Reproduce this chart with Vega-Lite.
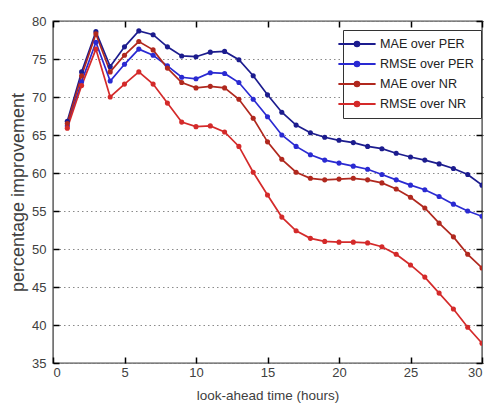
{
  "$schema": "https://vega.github.io/schema/vega-lite/v6.json",
  "width": 429,
  "height": 342,
  "autosize": {"type": "none"},
  "padding": {"left": 53, "top": 21, "right": 4, "bottom": 51},
  "background": "white",
  "config": {
    "view": {"stroke": "#505050", "strokeWidth": 1.4},
    "font": "Liberation Sans",
    "axis": {
      "labelFont": "Liberation Sans",
      "labelFontSize": 13,
      "labelColor": "#404040",
      "titleFont": "Liberation Sans",
      "titleFontSize": 13.5,
      "titleFontWeight": "normal",
      "titleColor": "#404040",
      "domain": false,
      "ticks": true,
      "tickColor": "#000000",
      "tickWidth": 1.5,
      "tickSize": 6,
      "tickOpacity": 1,
      "offset": -6,
      "zindex": 1
    }
  },
  "data": {
    "values": [
      {"h": 1, "MAE over PER": 66.8, "RMSE over PER": 66.2, "MAE over NR": 66.5, "RMSE over NR": 65.9},
      {"h": 2, "MAE over PER": 73.3, "RMSE over PER": 72.0, "MAE over NR": 72.8, "RMSE over NR": 71.5},
      {"h": 3, "MAE over PER": 78.6, "RMSE over PER": 77.2, "MAE over NR": 78.3, "RMSE over NR": 76.3},
      {"h": 4, "MAE over PER": 74.0, "RMSE over PER": 72.1, "MAE over NR": 73.3, "RMSE over NR": 70.0},
      {"h": 5, "MAE over PER": 76.6, "RMSE over PER": 74.3, "MAE over NR": 75.5, "RMSE over NR": 71.7},
      {"h": 6, "MAE over PER": 78.7, "RMSE over PER": 76.3, "MAE over NR": 77.3, "RMSE over NR": 73.3},
      {"h": 7, "MAE over PER": 78.2, "RMSE over PER": 75.5, "MAE over NR": 76.2, "RMSE over NR": 71.7},
      {"h": 8, "MAE over PER": 76.6, "RMSE over PER": 74.1, "MAE over NR": 73.8, "RMSE over NR": 69.2},
      {"h": 9, "MAE over PER": 75.4, "RMSE over PER": 72.6, "MAE over NR": 71.9, "RMSE over NR": 66.7},
      {"h": 10, "MAE over PER": 75.3, "RMSE over PER": 72.4, "MAE over NR": 71.2, "RMSE over NR": 66.1},
      {"h": 11, "MAE over PER": 75.9, "RMSE over PER": 73.2, "MAE over NR": 71.4, "RMSE over NR": 66.2},
      {"h": 12, "MAE over PER": 76.0, "RMSE over PER": 73.1, "MAE over NR": 71.2, "RMSE over NR": 65.4},
      {"h": 13, "MAE over PER": 74.9, "RMSE over PER": 71.9, "MAE over NR": 69.7, "RMSE over NR": 63.5},
      {"h": 14, "MAE over PER": 72.8, "RMSE over PER": 69.7, "MAE over NR": 67.2, "RMSE over NR": 60.1},
      {"h": 15, "MAE over PER": 70.3, "RMSE over PER": 67.4, "MAE over NR": 64.1, "RMSE over NR": 57.1},
      {"h": 16, "MAE over PER": 68.0, "RMSE over PER": 65.0, "MAE over NR": 61.8, "RMSE over NR": 54.2},
      {"h": 17, "MAE over PER": 66.3, "RMSE over PER": 63.5, "MAE over NR": 60.1, "RMSE over NR": 52.4},
      {"h": 18, "MAE over PER": 65.3, "RMSE over PER": 62.4, "MAE over NR": 59.3, "RMSE over NR": 51.4},
      {"h": 19, "MAE over PER": 64.7, "RMSE over PER": 61.7, "MAE over NR": 59.1, "RMSE over NR": 51.0},
      {"h": 20, "MAE over PER": 64.3, "RMSE over PER": 61.3, "MAE over NR": 59.2, "RMSE over NR": 50.9},
      {"h": 21, "MAE over PER": 64.0, "RMSE over PER": 60.9, "MAE over NR": 59.3, "RMSE over NR": 50.9},
      {"h": 22, "MAE over PER": 63.5, "RMSE over PER": 60.5, "MAE over NR": 59.1, "RMSE over NR": 50.8},
      {"h": 23, "MAE over PER": 63.2, "RMSE over PER": 59.8, "MAE over NR": 58.7, "RMSE over NR": 50.3},
      {"h": 24, "MAE over PER": 62.6, "RMSE over PER": 59.1, "MAE over NR": 57.9, "RMSE over NR": 49.3},
      {"h": 25, "MAE over PER": 62.1, "RMSE over PER": 58.4, "MAE over NR": 56.8, "RMSE over NR": 47.9},
      {"h": 26, "MAE over PER": 61.7, "RMSE over PER": 57.8, "MAE over NR": 55.4, "RMSE over NR": 46.3},
      {"h": 27, "MAE over PER": 61.2, "RMSE over PER": 56.9, "MAE over NR": 53.4, "RMSE over NR": 44.2},
      {"h": 28, "MAE over PER": 60.6, "RMSE over PER": 55.9, "MAE over NR": 51.6, "RMSE over NR": 42.1},
      {"h": 29, "MAE over PER": 59.8, "RMSE over PER": 55.0, "MAE over NR": 49.3, "RMSE over NR": 39.7},
      {"h": 30, "MAE over PER": 58.4, "RMSE over PER": 54.3, "MAE over NR": 47.5, "RMSE over NR": 37.6}
    ]
  },
  "transform": [
    {"fold": ["MAE over PER", "RMSE over PER", "MAE over NR", "RMSE over NR"], "as": ["series", "value"]}
  ],
  "layer": [
    {
      "mark": {"type": "line", "strokeWidth": 1.7, "point": {"filled": true, "size": 26}, "clip": true},
      "encoding": {
        "x": {
          "field": "h", "type": "quantitative",
          "scale": {"domain": [0, 30], "nice": false, "zero": false},
          "axis": {"title": "look-ahead time (hours)", "values": [0, 5, 10, 15, 20, 25, 30], "grid": false, "labelPadding": 3, "titlePadding": 9}
        },
        "y": {
          "field": "value", "type": "quantitative",
          "scale": {"domain": [35, 80], "nice": false, "zero": false},
          "axis": {"title": "percentage improvement", "titleFontSize": 18, "values": [35, 40, 45, 50, 55, 60, 65, 70, 75, 80], "grid": true, "gridColor": "#8a8a8a", "gridDash": [1.5, 3], "gridWidth": 1, "labelPadding": 7, "titlePadding": 4}
        },
        "color": {
          "field": "series", "type": "nominal",
          "scale": {
            "domain": ["MAE over PER", "RMSE over PER", "MAE over NR", "RMSE over NR"],
            "range": ["#1c1c8e", "#2a2ad2", "#b0281e", "#d42a2a"]
          },
          "legend": {
            "title": null,
            "orient": "none",
            "legendX": 290,
            "legendY": 9,
            "fillColor": "white",
            "strokeColor": "#333333",
            "padding": 7,
            "labelFont": "Liberation Sans",
            "labelFontSize": 12.6,
            "labelColor": "#222222",
            "labelOffset": 16,
            "symbolType": "M-3.1,0H3.1M-0.4,0A0.4,0.4,0,1,1,0.4,0A0.4,0.4,0,1,1,-0.4,0Z",
            "symbolSize": 144,
            "symbolStrokeWidth": 1.8,
            "rowPadding": 6,
            "encode": {
              "symbols": {"update": {"fill": {"scale": "color", "field": "value"}}}
            }
          }
        }
      }
    },
    {
      "mark": {"type": "point", "opacity": 0},
      "encoding": {
        "x": {"field": "h", "type": "quantitative", "axis": {"orient": "top", "labels": false, "title": null, "values": [0, 5, 10, 15, 20, 25, 30], "grid": false}},
        "y": {"field": "value", "type": "quantitative", "axis": {"orient": "right", "labels": false, "title": null, "values": [35, 40, 45, 50, 55, 60, 65, 70, 75, 80], "grid": false}}
      }
    }
  ],
  "resolve": {"axis": {"x": "independent", "y": "independent"}}
}
